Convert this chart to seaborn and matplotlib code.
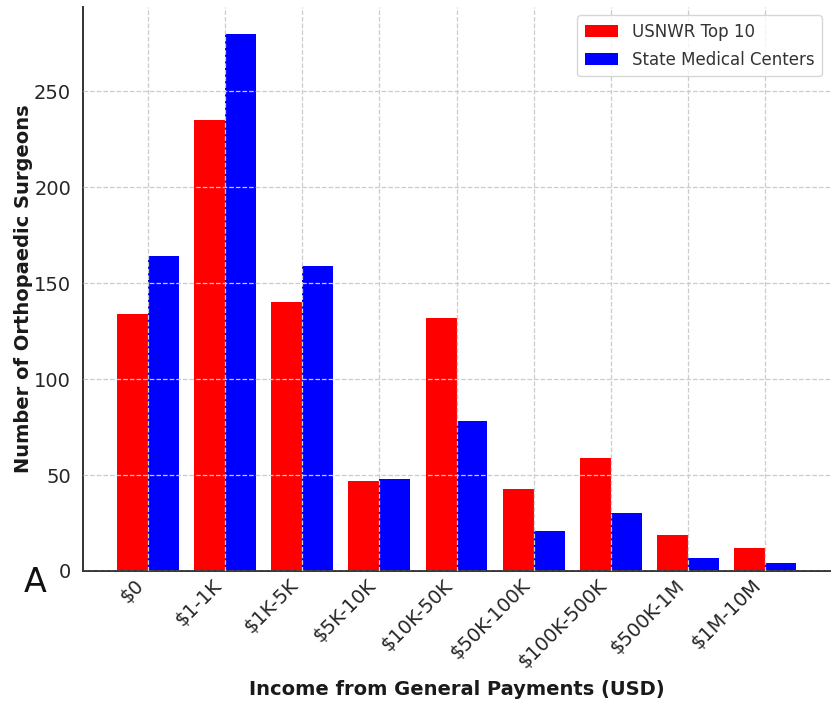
import matplotlib
matplotlib.use("Agg")
import matplotlib.pyplot as plt
import seaborn as sns
import pandas as pd

categories = ["$0", "$1-1K", "$1K-5K", "$5K-10K", "$10K-50K", "$50K-100K",
              "$100K-500K", "$500K-1M", "$1M-10M"]
usnwr_top10 = [134, 235, 140, 47, 132, 43, 59, 19, 12]
state_medical = [164, 280, 159, 48, 78, 21, 30, 7, 4]
series_names = ["USNWR Top 10", "State Medical Centers"]

df = pd.DataFrame({
    "Income": categories * 2,
    "Count": usnwr_top10 + state_medical,
    "Group": [series_names[0]] * len(categories) + [series_names[1]] * len(categories),
})

sns.set_style("white")
plt.rcParams["font.family"] = ["DejaVu Sans"]

fig = plt.figure(figsize=(8.32, 7.04), dpi=100)
ax = fig.add_axes([83 / 832, 1 - 571 / 704, (830 - 83) / 832, (571 - 7) / 704])

sns.barplot(data=df, x="Income", y="Count", hue="Group", order=categories,
            hue_order=series_names, palette=["#ff0000", "#0000ff"],
            saturation=1, ax=ax, width=0.8, edgecolor="none")

n = len(categories)
ax.set_xlim(-0.84, n - 1 + 0.84)
ax.set_ylim(0, 294)

ax.set_axisbelow(False)
ax.grid(True, linestyle="--", color="#cccccc", linewidth=0.9)
for gl in ax.get_xgridlines() + ax.get_ygridlines():
    gl.set_zorder(5)

ax.set_xlabel("Income from General Payments (USD)", fontsize=14, fontweight="bold",
              color="#1a1a1a", labelpad=6)
ax.set_ylabel("Number of Orthopaedic Surgeons", fontsize=14, fontweight="bold",
              color="#1a1a1a", labelpad=1)
ax.set_yticks([0, 50, 100, 150, 200, 250])
ax.tick_params(axis="both", labelsize=14, colors="#262626", length=5)
ax.tick_params(axis="x", length=0)
plt.setp(ax.get_xticklabels(), rotation=45, ha="right", rotation_mode="default")

for s in ["top", "right"]:
    ax.spines[s].set_visible(False)
for s in ["left", "bottom"]:
    ax.spines[s].set_color("#333333")
    ax.spines[s].set_linewidth(1.4)

leg = ax.legend(loc="upper right", fontsize=12, frameon=True, title=None,
                handlelength=2.0, borderpad=0.45, labelspacing=0.6,
                borderaxespad=0.5)
leg.get_frame().set_edgecolor("#cccccc")
for t in leg.get_texts():
    t.set_color("#333333")

fig.text(35 / 832, 1 - 592 / 704, "A", fontsize=24, ha="center", va="baseline",
         color="#111111")

fig.savefig("out.png", dpi=100)
